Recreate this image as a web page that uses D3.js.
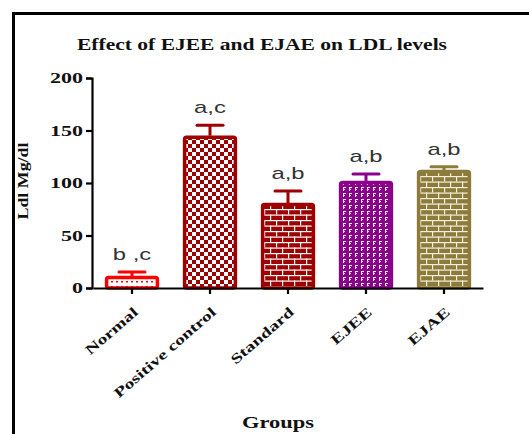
<!DOCTYPE html>
<html>
<head>
<meta charset="utf-8">
<script src="https://cdn.jsdelivr.net/npm/d3@7"></script>
<style>
  html, body { margin: 0; padding: 0; background: #fff; }
  svg { display: block; }
</style>
</head>
<body>
<svg id="chart" width="529" height="434"></svg>
<script>
// LDL levels per treatment group (mean and SEM)
const groups = ["Normal", "Positive control", "Standard", "EJEE", "EJAE"];
const means = [11.4, 145, 81, 102, 112.4];
const errors = [3.8, 10, 11.4, 6.5, 3];
const sigLabels = ["b ,c", "a,c", "a,b", "a,b", "a,b"];
const yTicks = [0, 50, 100, 150, 200];

const svg = d3.select("#chart");
const serif = "'Liberation Serif', 'Times New Roman', serif";
const sans = "'Liberation Sans', Arial, sans-serif";

// Widen text horizontally by a factor, keeping its anchor
function widen(sel, k) {
  sel.each(function () {
    const n = this.getComputedTextLength();
    d3.select(this).attr("textLength", n * k).attr("lengthAdjust", "spacingAndGlyphs");
  });
}

// Frame around the figure
svg.append("rect")
  .attr("x", 13.5).attr("y", 13.5)
  .attr("width", 600).attr("height", 500)
  .attr("fill", "none").attr("stroke", "#000").attr("stroke-width", 3);

const y = d3.scaleLinear().domain([0, 200]).range([288, 78]);
const x = d3.scaleBand().domain(groups).range([93, 483]).paddingInner(0.31).paddingOuter(0.155);

// Fill patterns, one per group
const defs = svg.append("defs");
function pattern(id, w, h, bg) {
  const p = defs.append("pattern").attr("id", id)
    .attr("patternUnits", "userSpaceOnUse").attr("width", w).attr("height", h);
  p.append("rect").attr("width", w).attr("height", h).attr("fill", bg);
  return p;
}
// dotted (Normal)
{
  const p = pattern("pDots", 5, 5, "#fff");
  p.append("rect").attr("x", 1).attr("y", 1).attr("width", 2).attr("height", 1.5).attr("fill", "#ff0000");
}
// checkerboard (Positive control)
{
  const p = pattern("pCheck", 8, 8, "#9e0000");
  p.append("rect").attr("x", 0).attr("y", 0).attr("width", 4).attr("height", 4).attr("fill", "#fff");
  p.append("rect").attr("x", 4).attr("y", 4).attr("width", 4).attr("height", 4).attr("fill", "#fff");
}
// bricks
function brick(id, bg, mortar) {
  const p = pattern(id, 12, 11, bg);
  p.append("rect").attr("x", 0).attr("y", 0).attr("width", 12).attr("height", 1.2).attr("fill", mortar);
  p.append("rect").attr("x", 0).attr("y", 5.5).attr("width", 12).attr("height", 1.2).attr("fill", mortar);
  p.append("rect").attr("x", 0).attr("y", 0).attr("width", 1.2).attr("height", 5.5).attr("fill", mortar);
  p.append("rect").attr("x", 6).attr("y", 5.5).attr("width", 1.2).attr("height", 5.5).attr("fill", mortar);
}
brick("pBrickRed", "#9e0000", "#fff");
brick("pBrickOlive", "#8c7b3a", "#f4efdc");
// small marks (EJEE)
{
  const p = pattern("pMarks", 6, 6, "#8b008b");
  p.append("rect").attr("x", 1).attr("y", 1).attr("width", 3).attr("height", 1).attr("fill", "#fff");
  p.append("rect").attr("x", 1).attr("y", 1).attr("width", 1).attr("height", 4).attr("fill", "#fff");
  p.append("rect").attr("x", 1).attr("y", 3).attr("width", 2).attr("height", 1).attr("fill", "#f3d9f3");
}

const fills = ["url(#pDots)", "url(#pCheck)", "url(#pBrickRed)", "url(#pMarks)", "url(#pBrickOlive)"];
const strokes = ["#ff0000", "#9e0000", "#9e0000", "#8b008b", "#8c7b3a"];

const data = groups.map((g, i) => ({ g, m: means[i], e: errors[i], lab: sigLabels[i], fill: fills[i], stroke: strokes[i] }));

// Error bars (upper only)
const eb = svg.append("g").selectAll("g").data(data).join("g");
eb.append("line")
  .attr("x1", d => x(d.g) + x.bandwidth() / 2).attr("x2", d => x(d.g) + x.bandwidth() / 2)
  .attr("y1", d => y(d.m)).attr("y2", d => y(d.m + d.e))
  .attr("stroke", d => d.stroke).attr("stroke-width", 3);
eb.append("line")
  .attr("x1", d => x(d.g) + x.bandwidth() / 2 - 13).attr("x2", d => x(d.g) + x.bandwidth() / 2 + 13)
  .attr("y1", d => y(d.m + d.e)).attr("y2", d => y(d.m + d.e))
  .attr("stroke", d => d.stroke).attr("stroke-width", 3).attr("stroke-linecap", "round");

// Bars
svg.append("g").selectAll("rect").data(data).join("rect")
  .attr("x", d => x(d.g) + 1.5)
  .attr("y", d => y(d.m) + 1.5)
  .attr("width", x.bandwidth() - 3)
  .attr("height", d => y(0) - y(d.m) - 1.5)
  .attr("rx", 2)
  .attr("fill", d => d.fill)
  .attr("stroke", d => d.stroke)
  .attr("stroke-width", 3.5);

// Significance letters
svg.append("g").selectAll("text").data(data).join("text")
  .attr("x", d => x(d.g) + x.bandwidth() / 2)
  .attr("y", d => y(d.m + d.e) - 12)
  .attr("text-anchor", "middle")
  .attr("font-family", sans).attr("font-size", 17)
  .attr("fill", "#333")
  .text(d => d.lab)
  .call(widen, 1.4);

// Y axis
const yAxis = svg.append("g").attr("transform", "translate(92,0)")
  .call(d3.axisLeft(y).tickValues(yTicks).tickSize(6).tickPadding(3));
yAxis.select(".domain").attr("stroke-width", 2.2);
yAxis.selectAll(".tick line").attr("stroke-width", 2.2);
yAxis.selectAll("text")
  .attr("font-family", serif).attr("font-weight", "bold").attr("font-size", 15)
  .attr("fill", "#111")
  .attr("textLength", d => String(d).length * 11)
  .attr("lengthAdjust", "spacingAndGlyphs");

// X axis
const xAxis = svg.append("g").attr("transform", "translate(0,288)")
  .call(d3.axisBottom(x).tickSize(6).tickSizeOuter(0));
xAxis.select(".domain").attr("stroke-width", 2.2);
xAxis.selectAll(".tick line").attr("stroke-width", 2.2);
xAxis.selectAll("text")
  .attr("font-family", serif).attr("font-weight", "bold").attr("font-size", 14)
  .attr("fill", "#111")
  .attr("text-anchor", "end")
  .attr("transform", "translate(-4,13) rotate(-41)")
  .attr("dy", "0.75em")
  .attr("x", 0).attr("y", 6)
  .call(widen, 1.4);

// Title
svg.append("text")
  .attr("x", 262).attr("y", 50)
  .attr("text-anchor", "middle")
  .attr("font-family", serif).attr("font-weight", "bold").attr("font-size", 16)
  .attr("fill", "#111")
  .attr("textLength", 370).attr("lengthAdjust", "spacingAndGlyphs")
  .text("Effect of EJEE and EJAE on LDL levels");

// Axis titles
svg.append("text")
  .attr("transform", "translate(28,181) rotate(-90)")
  .attr("text-anchor", "middle")
  .attr("font-family", serif).attr("font-weight", "bold").attr("font-size", 14)
  .attr("fill", "#111")
  .attr("textLength", 77).attr("lengthAdjust", "spacingAndGlyphs")
  .text("Ldl Mg/dl");

svg.append("text")
  .attr("x", 278).attr("y", 428)
  .attr("text-anchor", "middle")
  .attr("font-family", serif).attr("font-weight", "bold").attr("font-size", 16)
  .attr("fill", "#111")
  .attr("textLength", 72).attr("lengthAdjust", "spacingAndGlyphs")
  .text("Groups");
</script>
</body>
</html>
